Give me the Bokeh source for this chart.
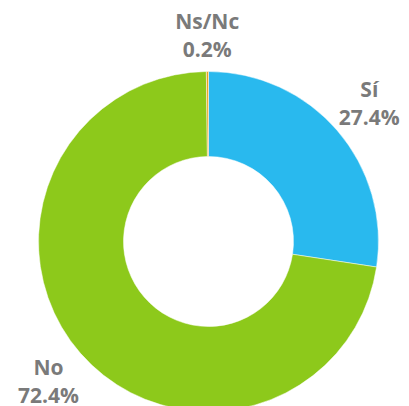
import math
from bokeh.plotting import figure
from bokeh.models import Range1d, ColumnDataSource
from bokeh.core.properties import value
from bokeh.embed import file_html
from bokeh.resources import INLINE

categories = ["Sí", "No", "Ns/Nc"]
percent = [27.4, 72.4, 0.2]
colors = ["#29B9EE", "#8DC91B", "#E9A31F"]

W, H = 409, 406
cx, cy = 208, 165
r_out, r_in = 170, 85

total = sum(percent)
starts, ends, lx, ly, labels = [], [], [], [], []
acc = 0.0
for c, v in zip(categories, percent):
    a0 = math.pi / 2 - 2 * math.pi * acc / total
    acc += v
    a1 = math.pi / 2 - 2 * math.pi * acc / total
    starts.append(a1)
    ends.append(a0)
    mid = (a0 + a1) / 2
    rl = 206 + 8 * abs(math.cos(mid))
    lx.append(cx + rl * math.cos(mid))
    ly.append(cy + rl * math.sin(mid))
    labels.append(f"{c}\n{v}%")

src = ColumnDataSource(dict(start=starts, end=ends, color=colors, lx=lx, ly=ly, label=labels))

p = figure(width=W, height=H, output_backend="svg", toolbar_location=None,
           x_range=Range1d(0, W), y_range=Range1d(0, H), min_border=0)
p.axis.visible = False
p.grid.visible = False
p.outline_line_color = None

p.annular_wedge(x=cx, y=cy, inner_radius=r_in, outer_radius=r_out,
                start_angle="start", end_angle="end", fill_color="color",
                line_color="white", line_width=0.5, source=src)
p.text(x="lx", y="ly", text="label", source=src, text_align="center",
       text_baseline="middle", text_color="#7A7A7A", text_font=value("Open Sans"),
       text_font_style="bold", text_font_size="21px", text_line_height=1.0)

open("out.html", "w").write(file_html(p, INLINE))
